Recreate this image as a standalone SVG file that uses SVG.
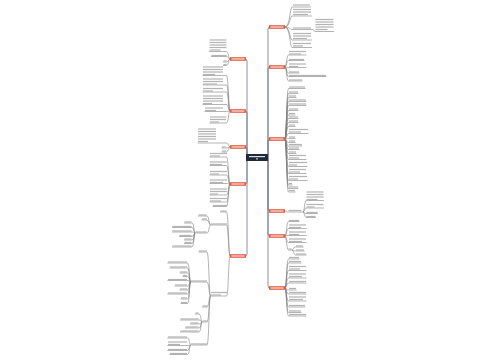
<svg xmlns="http://www.w3.org/2000/svg" width="500" height="360" viewBox="0 0 500 360">
<style>
.c{fill:none;stroke:#808080;stroke-width:0.6}
.tr{fill:none;stroke:#6f7680;stroke-width:0.8}
.t{fill:#b3b3b3}
.r{fill:#e35b40}
.rw{fill:#fde2da}
</style>
<rect width="500" height="360" fill="#ffffff"/>
<g id="connectors">
<path class="tr" d="M268 157.5V29Q268 27 270 27M268 157.5V69Q268 67 270 67M268 157.5V141Q268 139 270 139M268 157.5V209Q268 211 270 211M268 157.5V234Q268 236 270 236M268 157.5V286Q268 288 270 288"/>
<path class="tr" d="M247 157.5V61Q247 59 245 59M247 157.5V113Q247 111 245 111M247 157.5V149Q247 147 245 147M247 157.5V182Q247 184 245 184M247 157.5V254Q247 256 245 256"/>
<path class="c" d="M285 27C290 27 290 7 292 7H311M285 27C290 27 290 16 292 16H312M285 27C290 27 290 29.5 292 29.5H313M285 27C290 27 290 40 292 40H312M285 27C290 27 290 47.5 292 47.5H312M313 29.5C314 29.5 314 31.5 315 31.5H334"/>
<path class="c" d="M285 67C286.5 67 286.5 55 288.5 55H306.5M285 67C286.5 67 286.5 60.5 288.5 60.5H304.5M285 67C286.5 67 286.5 67.5 288.5 67.5H306.5M285 67C286.5 67 286.5 73 288.5 73H299.5M285 67C286.5 67 286.5 76.5 288.5 76.5H326.5M285 67C286.5 67 286.5 81 288.5 81H302.5"/>
<path class="c" d="M285 139C286.5 139 286.5 88.5 288.5 88.5H305.5M285 139C286.5 139 286.5 93.5 288.5 93.5H298.5M285 139C286.5 139 286.5 97.5 288.5 97.5H296.5M285 139C286.5 139 286.5 101.5 288.5 101.5H306.5M285 139C286.5 139 286.5 105.5 288.5 105.5H306.5M285 139C286.5 139 286.5 110.5 288.5 110.5H298.5M285 139C286.5 139 286.5 115 288.5 115H295.5M285 139C286.5 139 286.5 118.5 288.5 118.5H298.5M285 139C286.5 139 286.5 122.5 288.5 122.5H298.5M285 139C286.5 139 286.5 126.5 288.5 126.5H295.5M285 139C286.5 139 286.5 133.5 288.5 133.5H308.5M285 139C286.5 139 286.5 138.5 288.5 138.5H295.5M285 139C286.5 139 286.5 142.5 288.5 142.5H295.5M285 139C286.5 139 286.5 146 288.5 146H302.5M285 139C286.5 139 286.5 149.5 288.5 149.5H299.5M285 139C286.5 139 286.5 153.5 288.5 153.5H296.5M285 139C286.5 139 286.5 159.5 288.5 159.5H306.5M285 139C286.5 139 286.5 166.5 288.5 166.5H307.5M285 139C286.5 139 286.5 173.5 288.5 173.5H306.5M285 139C286.5 139 286.5 180.5 288.5 180.5H307.5M285 139C286.5 139 286.5 185 288.5 185H292.5M285 139C286.5 139 286.5 188.5 288.5 188.5H298.5M285 139C286.5 139 286.5 192 288.5 192H295.5"/>
<path class="c" d="M285 211C286.5 211 286.5 212 288.5 212H303M303 212C304.5 212 304.5 200.5 306 200.5H324M303 212C304.5 212 304.5 208 306 208H324M303 212C304.5 212 304.5 213.5 306 213.5H318M303 212C304.5 212 304.5 217.5 306 217.5H316"/>
<path class="c" d="M285 236C286.5 236 286.5 221.5 288.5 221.5H299.5M285 236C286.5 236 286.5 228.5 288.5 228.5H306.5M285 236C286.5 236 286.5 235.5 288.5 235.5H306.5M285 236C286.5 236 286.5 242.5 288.5 242.5H306.5M285 236C286.5 236 286.5 250 288.5 250H292M292 250C293.5 250 293.5 247 295.5 247H303.5M292 250C293.5 250 293.5 251 295.5 251H304.5M292 250C293.5 250 293.5 255 295.5 255H306.5"/>
<path class="c" d="M285 288C286.5 288 286.5 259 288.5 259H299.5M285 288C286.5 288 286.5 263 288.5 263H301.5M285 288C286.5 288 286.5 270.5 288.5 270.5H306.5M285 288C286.5 288 286.5 278 288.5 278H306.5M285 288C286.5 288 286.5 283 288.5 283H306.5M285 288C286.5 288 286.5 290 288.5 290H296.5M285 288C286.5 288 286.5 294 288.5 294H306.5M285 288C286.5 288 286.5 301 288.5 301H306.5M285 288C286.5 288 286.5 307 288.5 307H305.5M285 288C286.5 288 286.5 312.5 288.5 312.5H301.5M285 288C286.5 288 286.5 316 288.5 316H306.5"/>
<path class="c" d="M230 59C228.5 59 228.5 51.5 226.5 51.5H209M230 59C228.5 59 228.5 56.5 226.5 56.5H211M230 59C228.5 59 228.5 62 226.5 62H223M230 59C228.5 59 228.5 65.5 226.5 65.5H223"/>
<path class="c" d="M230 111C228.5 111 228.5 75.5 226.5 75.5H202.5M230 111C228.5 111 228.5 85 226.5 85H202.5M230 111C228.5 111 228.5 92 226.5 92H202.5M230 111C228.5 111 228.5 104.5 226.5 104.5H202.5M230 111C228.5 111 228.5 111.5 226.5 111.5H204.5M230 111C228.5 111 228.5 123 226.5 123H209.5"/>
<path class="c" d="M230 147C228.5 147 228.5 143 226.5 143H197.5M230 147C228.5 147 228.5 148 226.5 148H221.5M230 147C228.5 147 228.5 152 226.5 152H221.5"/>
<path class="c" d="M230 184C228.5 184 228.5 157 226.5 157H209.5M230 184C228.5 184 228.5 165.5 226.5 165.5H209.5M230 184C228.5 184 228.5 175 226.5 175H209.5M230 184C228.5 184 228.5 183.5 226.5 183.5H209.5M230 184C228.5 184 228.5 195 226.5 195H209.5M230 184C228.5 184 228.5 202 226.5 202H209.5M230 184C228.5 184 228.5 206.5 226.5 206.5H212.5"/>
<path class="c" d="M230 256C228.5 256 228.5 212 226.5 212H220M230 256C228.5 256 228.5 225 226.5 225H210.5M230 256C228.5 256 228.5 296 226.5 296H210.5"/>
<path class="c" d="M210.5 225C209 225 209 216 207 216H198M210.5 225C209 225 209 220 207 220H201.5M210.5 225C209 225 209 233 207 233H195"/>
<path class="c" d="M195 233C194 233 194 223 192 223H184M195 233C194 233 194 227.5 192 227.5H172M195 233C194 233 194 232 192 232H172M195 233C194 233 194 236.5 192 236.5H179M195 233C194 233 194 240 192 240H184M195 233C194 233 194 243.5 192 243.5H184M195 233C194 233 194 247 192 247H172"/>
<path class="c" d="M210.5 296C209 296 209 252 207 252H198.5M210.5 296C209 296 209 282 207 282H190.5M210.5 296C209 296 209 307 207 307H202M210.5 296C209 296 209 322 207 322H202M210.5 296C209 296 209 345 207 345H190.5"/>
<path class="c" d="M190.5 282C189.5 282 189.5 263 187.5 263H167.5M190.5 282C189.5 282 189.5 268 187.5 268H169.5M190.5 282C189.5 282 189.5 273 187.5 273H179.5M190.5 282C189.5 282 189.5 276.5 187.5 276.5H182.5M190.5 282C189.5 282 189.5 280.5 187.5 280.5H167.5M190.5 282C189.5 282 189.5 286 187.5 286H174.5M190.5 282C189.5 282 189.5 290 187.5 290H179.5M190.5 282C189.5 282 189.5 294 187.5 294H167.5M190.5 282C189.5 282 189.5 299 187.5 299H180.5M190.5 282C189.5 282 189.5 303.5 187.5 303.5H180.5"/>
<path class="c" d="M202 322C201 322 201 314 199 314H195M202 322C201 322 201 320 199 320H180M202 322C201 322 201 324 199 324H190M202 322C201 322 201 328 199 328H185M202 322C201 322 201 332 199 332H180"/>
<path class="c" d="M190.5 345C189.5 345 189.5 338 187.5 338H167.5M190.5 345C189.5 345 189.5 345.5 187.5 345.5H167.5M190.5 345C189.5 345 189.5 350.5 187.5 350.5H167.5M190.5 345C189.5 345 189.5 354.5 187.5 354.5H169.5"/>
</g>
<g id="root"><rect x="246" y="154" width="22" height="7" rx="0.5" fill="#1f2a38"/><rect x="249" y="156" width="16" height="1.2" fill="#d9dee4"/><rect x="256" y="158.4" width="2" height="1" fill="#d9dee4"/></g>
<g id="R1"><rect class="r" x="269" y="25.2" width="16" height="3.6"/><rect class="rw" x="270.5" y="26.4" width="13" height="1.2"/></g>
<g id="R2"><rect class="r" x="269" y="65.2" width="16" height="3.6"/><rect class="rw" x="270.5" y="66.4" width="13" height="1.2"/></g>
<g id="R3"><rect class="r" x="269" y="137.2" width="16" height="3.6"/><rect class="rw" x="270.5" y="138.4" width="13" height="1.2"/></g>
<g id="R4"><rect class="r" x="269" y="209.2" width="16" height="3.6"/><rect class="rw" x="270.5" y="210.4" width="13" height="1.2"/></g>
<g id="R5"><rect class="r" x="269" y="234.2" width="16" height="3.6"/><rect class="rw" x="270.5" y="235.4" width="13" height="1.2"/></g>
<g id="R6"><rect class="r" x="269" y="286.2" width="16" height="3.6"/><rect class="rw" x="270.5" y="287.4" width="13" height="1.2"/></g>
<g id="L1"><rect class="r" x="230" y="57.2" width="16" height="3.6"/><rect class="rw" x="231.5" y="58.4" width="13" height="1.2"/></g>
<g id="L2"><rect class="r" x="230" y="109.2" width="16" height="3.6"/><rect class="rw" x="231.5" y="110.4" width="13" height="1.2"/></g>
<g id="L3"><rect class="r" x="230" y="145.2" width="16" height="3.6"/><rect class="rw" x="231.5" y="146.4" width="13" height="1.2"/></g>
<g id="L4"><rect class="r" x="230" y="182.2" width="16" height="3.6"/><rect class="rw" x="231.5" y="183.4" width="13" height="1.2"/></g>
<g id="L5"><rect class="r" x="230" y="254.2" width="16" height="3.6"/><rect class="rw" x="231.5" y="255.4" width="13" height="1.2"/></g>
<g id="r1a"><rect class="t" x="293" y="4.4" width="17" height="1.2"/></g>
<g id="r1b"><rect class="t" x="293" y="8.9" width="18" height="1.2"/><rect class="t" x="293" y="11.4" width="18" height="1.2"/><rect class="t" x="293" y="13.9" width="15" height="1.2"/></g>
<g id="r1c"><rect class="t" x="293" y="27.4" width="18" height="1.2"/></g>
<g id="r1c1"><rect class="t" x="315.5" y="18.9" width="18" height="1.2"/><rect class="t" x="315.5" y="21.4" width="18" height="1.2"/><rect class="t" x="315.5" y="23.9" width="18" height="1.2"/><rect class="t" x="315.5" y="26.4" width="18" height="1.2"/><rect class="t" x="315.5" y="28.9" width="12" height="1.2"/></g>
<g id="r1d"><rect class="t" x="293" y="32.9" width="18" height="1.2"/><rect class="t" x="293" y="35.4" width="18" height="1.2"/><rect class="t" x="293" y="37.9" width="14" height="1.2"/></g>
<g id="r1e"><rect class="t" x="293" y="42.9" width="18" height="1.2"/><rect class="t" x="293" y="45.4" width="10" height="1.2"/></g>
<g id="r2a"><rect class="t" x="289" y="50.9" width="17" height="1.2"/><rect class="t" x="289" y="53.4" width="12" height="1.2"/></g>
<g id="r2b"><rect class="t" x="289" y="58.9" width="15" height="1.2"/></g>
<g id="r2c"><rect class="t" x="289" y="63.4" width="17" height="1.2"/><rect class="t" x="289" y="65.9" width="9" height="1.2"/></g>
<g id="r2d"><rect class="t" x="289" y="71.4" width="10" height="1.2"/></g>
<g id="r2e"><rect class="t" x="289" y="74.9" width="37" height="1.2"/></g>
<g id="r2f"><rect class="t" x="289" y="79.4" width="13" height="1.2"/></g>
<g id="r3a"><rect class="t" x="289" y="86.4" width="16" height="1.2"/></g>
<g id="r3b"><rect class="t" x="289" y="91.4" width="9" height="1.2"/></g>
<g id="r3c"><rect class="t" x="289" y="95.4" width="7" height="1.2"/></g>
<g id="r3d"><rect class="t" x="289" y="99.4" width="17" height="1.2"/></g>
<g id="r3e"><rect class="t" x="289" y="103.4" width="17" height="1.2"/></g>
<g id="r3f"><rect class="t" x="289" y="108.4" width="9" height="1.2"/></g>
<g id="r3g"><rect class="t" x="289" y="112.9" width="6" height="1.2"/></g>
<g id="r3h"><rect class="t" x="289" y="116.4" width="9" height="1.2"/></g>
<g id="r3i"><rect class="t" x="289" y="120.4" width="9" height="1.2"/></g>
<g id="r3j"><rect class="t" x="289" y="124.4" width="6" height="1.2"/></g>
<g id="r3k"><rect class="t" x="289" y="128.9" width="19" height="1.2"/><rect class="t" x="289" y="131.4" width="12" height="1.2"/></g>
<g id="r3l"><rect class="t" x="289" y="136.4" width="6" height="1.2"/></g>
<g id="r3m"><rect class="t" x="289" y="140.4" width="6" height="1.2"/></g>
<g id="r3n"><rect class="t" x="289" y="143.9" width="13" height="1.2"/></g>
<g id="r3o"><rect class="t" x="289" y="147.4" width="10" height="1.2"/></g>
<g id="r3p"><rect class="t" x="289" y="151.4" width="7" height="1.2"/></g>
<g id="r3q"><rect class="t" x="289" y="154.9" width="17" height="1.2"/><rect class="t" x="289" y="157.4" width="10" height="1.2"/></g>
<g id="r3r"><rect class="t" x="289" y="161.9" width="18" height="1.2"/><rect class="t" x="289" y="164.4" width="8" height="1.2"/></g>
<g id="r3s"><rect class="t" x="289" y="168.9" width="17" height="1.2"/><rect class="t" x="289" y="171.4" width="11" height="1.2"/></g>
<g id="r3t"><rect class="t" x="289" y="175.9" width="18" height="1.2"/><rect class="t" x="289" y="178.4" width="9" height="1.2"/></g>
<g id="r3u"><rect class="t" x="289" y="182.9" width="3" height="1.2"/></g>
<g id="r3v"><rect class="t" x="289" y="186.4" width="9" height="1.2"/></g>
<g id="r3w"><rect class="t" x="289" y="189.9" width="6" height="1.2"/></g>
<g id="r4a"><rect class="t" x="288.5" y="209.9" width="13" height="1.2"/></g>
<g id="r4b"><rect class="t" x="306.5" y="191.4" width="17" height="1.2"/><rect class="t" x="306.5" y="193.9" width="17" height="1.2"/><rect class="t" x="306.5" y="196.4" width="17" height="1.2"/><rect class="t" x="306.5" y="198.9" width="11" height="1.2"/></g>
<g id="r4c"><rect class="t" x="306.5" y="203.9" width="17" height="1.2"/><rect class="t" x="306.5" y="206.4" width="8" height="1.2"/></g>
<g id="r4d"><rect class="t" x="306.5" y="211.9" width="11" height="1.2"/></g>
<g id="r4e"><rect class="t" x="306.5" y="215.9" width="9" height="1.2"/></g>
<g id="r5a"><rect class="t" x="289" y="219.9" width="10" height="1.2"/></g>
<g id="r5b"><rect class="t" x="289" y="224.4" width="17" height="1.2"/><rect class="t" x="289" y="226.9" width="12" height="1.2"/></g>
<g id="r5c"><rect class="t" x="289" y="231.4" width="17" height="1.2"/><rect class="t" x="289" y="233.9" width="10" height="1.2"/></g>
<g id="r5d"><rect class="t" x="289" y="238.4" width="17" height="1.2"/><rect class="t" x="289" y="240.9" width="13" height="1.2"/></g>
<g id="r5e"><rect class="t" x="288.5" y="248.4" width="3" height="1.2"/></g>
<g id="r5e1"><rect class="t" x="296" y="245.4" width="7" height="1.2"/></g>
<g id="r5e2"><rect class="t" x="296" y="249.4" width="8" height="1.2"/></g>
<g id="r5e3"><rect class="t" x="296" y="253.4" width="10" height="1.2"/></g>
<g id="r6a"><rect class="t" x="289" y="256.9" width="10" height="1.2"/></g>
<g id="r6b"><rect class="t" x="289" y="260.9" width="12" height="1.2"/></g>
<g id="r6c"><rect class="t" x="289" y="265.9" width="17" height="1.2"/><rect class="t" x="289" y="268.4" width="11" height="1.2"/></g>
<g id="r6d"><rect class="t" x="289" y="273.4" width="17" height="1.2"/><rect class="t" x="289" y="275.9" width="13" height="1.2"/></g>
<g id="r6e"><rect class="t" x="289" y="280.9" width="17" height="1.2"/></g>
<g id="r6f"><rect class="t" x="289" y="287.9" width="7" height="1.2"/></g>
<g id="r6g"><rect class="t" x="289" y="291.9" width="17" height="1.2"/></g>
<g id="r6h"><rect class="t" x="289" y="296.4" width="17" height="1.2"/><rect class="t" x="289" y="298.9" width="14" height="1.2"/></g>
<g id="r6i"><rect class="t" x="289" y="304.9" width="16" height="1.2"/></g>
<g id="r6j"><rect class="t" x="289" y="310.4" width="12" height="1.2"/></g>
<g id="r6k"><rect class="t" x="289" y="313.9" width="17" height="1.2"/></g>
<g id="l1a"><rect class="t" x="209.5" y="39.4" width="17" height="1.2"/><rect class="t" x="209.5" y="41.9" width="17" height="1.2"/><rect class="t" x="209.5" y="44.4" width="17" height="1.2"/><rect class="t" x="209.5" y="46.9" width="17" height="1.2"/><rect class="t" x="209.5" y="49.4" width="11" height="1.2"/></g>
<g id="l1b"><rect class="t" x="211.5" y="54.9" width="15" height="1.2"/></g>
<g id="l1c"><rect class="t" x="223.5" y="60.4" width="3" height="1.2"/></g>
<g id="l1d"><rect class="t" x="223.5" y="63.9" width="3" height="1.2"/></g>
<g id="l2a"><rect class="t" x="203" y="66.4" width="20" height="1.2"/><rect class="t" x="203" y="68.9" width="20" height="1.2"/><rect class="t" x="203" y="71.4" width="20" height="1.2"/><rect class="t" x="203" y="73.9" width="12" height="1.2"/></g>
<g id="l2b"><rect class="t" x="203" y="78.4" width="20" height="1.2"/><rect class="t" x="203" y="80.9" width="20" height="1.2"/><rect class="t" x="203" y="83.4" width="14" height="1.2"/></g>
<g id="l2c"><rect class="t" x="203" y="87.9" width="20" height="1.2"/><rect class="t" x="203" y="90.4" width="10" height="1.2"/></g>
<g id="l2d"><rect class="t" x="203" y="95.4" width="20" height="1.2"/><rect class="t" x="203" y="97.9" width="20" height="1.2"/><rect class="t" x="203" y="100.4" width="20" height="1.2"/><rect class="t" x="203" y="102.9" width="9" height="1.2"/></g>
<g id="l2e"><rect class="t" x="205" y="107.4" width="18" height="1.2"/><rect class="t" x="205" y="109.9" width="11" height="1.2"/></g>
<g id="l2f"><rect class="t" x="210" y="116.4" width="16" height="1.2"/><rect class="t" x="210" y="118.9" width="16" height="1.2"/><rect class="t" x="210" y="121.4" width="9" height="1.2"/></g>
<g id="l3a"><rect class="t" x="198" y="128.4" width="18" height="1.2"/><rect class="t" x="198" y="130.9" width="18" height="1.2"/><rect class="t" x="198" y="133.4" width="18" height="1.2"/><rect class="t" x="198" y="135.9" width="18" height="1.2"/><rect class="t" x="198" y="138.4" width="18" height="1.2"/><rect class="t" x="198" y="140.9" width="10" height="1.2"/></g>
<g id="l3b"><rect class="t" x="222" y="146.4" width="4" height="1.2"/></g>
<g id="l3c"><rect class="t" x="222" y="150.4" width="4" height="1.2"/></g>
<g id="l4a"><rect class="t" x="210" y="152.9" width="17" height="1.2"/><rect class="t" x="210" y="155.4" width="10" height="1.2"/></g>
<g id="l4b"><rect class="t" x="210" y="161.4" width="17" height="1.2"/><rect class="t" x="210" y="163.9" width="12" height="1.2"/></g>
<g id="l4c"><rect class="t" x="210" y="170.9" width="17" height="1.2"/><rect class="t" x="210" y="173.4" width="9" height="1.2"/></g>
<g id="l4d"><rect class="t" x="210" y="179.4" width="17" height="1.2"/><rect class="t" x="210" y="181.9" width="13" height="1.2"/></g>
<g id="l4e"><rect class="t" x="210" y="188.4" width="17" height="1.2"/><rect class="t" x="210" y="190.9" width="17" height="1.2"/><rect class="t" x="210" y="193.4" width="8" height="1.2"/></g>
<g id="l4f"><rect class="t" x="210" y="197.9" width="17" height="1.2"/><rect class="t" x="210" y="200.4" width="11" height="1.2"/></g>
<g id="l4g"><rect class="t" x="213" y="204.9" width="14" height="1.2"/></g>
<g id="l5a"><rect class="t" x="220.5" y="210.4" width="6" height="1.2"/></g>
<g id="l5b"><rect class="t" x="211" y="223.4" width="16" height="1.2"/></g>
<g id="l5b1"><rect class="t" x="198.5" y="214.4" width="8" height="1.2"/></g>
<g id="l5b2"><rect class="t" x="202" y="218.4" width="5" height="1.2"/></g>
<g id="l5b3"><rect class="t" x="195.5" y="231.4" width="11" height="1.2"/></g>
<g id="l5b3a"><rect class="t" x="184.5" y="221.4" width="7" height="1.2"/></g>
<g id="l5b3b"><rect class="t" x="172.5" y="225.9" width="19" height="1.2"/></g>
<g id="l5b3c"><rect class="t" x="172.5" y="230.4" width="19" height="1.2"/></g>
<g id="l5b3d"><rect class="t" x="179.5" y="234.9" width="12" height="1.2"/></g>
<g id="l5b3e"><rect class="t" x="184.5" y="238.4" width="7" height="1.2"/></g>
<g id="l5b3f"><rect class="t" x="184.5" y="241.9" width="7" height="1.2"/></g>
<g id="l5b3g"><rect class="t" x="172.5" y="245.4" width="19" height="1.2"/></g>
<g id="l5d"><rect class="t" x="211" y="291.9" width="16" height="1.2"/><rect class="t" x="211" y="294.4" width="10" height="1.2"/></g>
<g id="l5c"><rect class="t" x="199" y="250.4" width="8" height="1.2"/></g>
<g id="l5e"><rect class="t" x="191" y="280.4" width="16" height="1.2"/></g>
<g id="l5e1"><rect class="t" x="168" y="261.4" width="19" height="1.2"/></g>
<g id="l5e2"><rect class="t" x="170" y="266.4" width="17" height="1.2"/></g>
<g id="l5e3"><rect class="t" x="180" y="271.4" width="7" height="1.2"/></g>
<g id="l5e4"><rect class="t" x="183" y="274.9" width="4" height="1.2"/></g>
<g id="l5e5"><rect class="t" x="168" y="278.9" width="19" height="1.2"/></g>
<g id="l5e6"><rect class="t" x="175" y="284.4" width="12" height="1.2"/></g>
<g id="l5e7"><rect class="t" x="180" y="288.4" width="7" height="1.2"/></g>
<g id="l5e8"><rect class="t" x="168" y="292.4" width="19" height="1.2"/></g>
<g id="l5e9"><rect class="t" x="181" y="297.4" width="6" height="1.2"/></g>
<g id="l5e10"><rect class="t" x="181" y="301.9" width="6" height="1.2"/></g>
<g id="l5f"><rect class="t" x="202.5" y="305.4" width="5" height="1.2"/></g>
<g id="l5g"><rect class="t" x="202.5" y="320.4" width="5" height="1.2"/></g>
<g id="l5g1"><rect class="t" x="195.5" y="312.4" width="3" height="1.2"/></g>
<g id="l5g2"><rect class="t" x="180.5" y="318.4" width="18" height="1.2"/></g>
<g id="l5g3"><rect class="t" x="190.5" y="322.4" width="8" height="1.2"/></g>
<g id="l5g4"><rect class="t" x="185.5" y="326.4" width="13" height="1.2"/></g>
<g id="l5g5"><rect class="t" x="180.5" y="330.4" width="18" height="1.2"/></g>
<g id="l5h"><rect class="t" x="191" y="343.4" width="16" height="1.2"/></g>
<g id="l5h1"><rect class="t" x="168" y="336.4" width="19" height="1.2"/></g>
<g id="l5h2"><rect class="t" x="168" y="341.4" width="19" height="1.2"/><rect class="t" x="168" y="343.9" width="12" height="1.2"/></g>
<g id="l5h3"><rect class="t" x="168" y="348.9" width="19" height="1.2"/></g>
<g id="l5h4"><rect class="t" x="170" y="352.9" width="17" height="1.2"/></g>
</svg>
